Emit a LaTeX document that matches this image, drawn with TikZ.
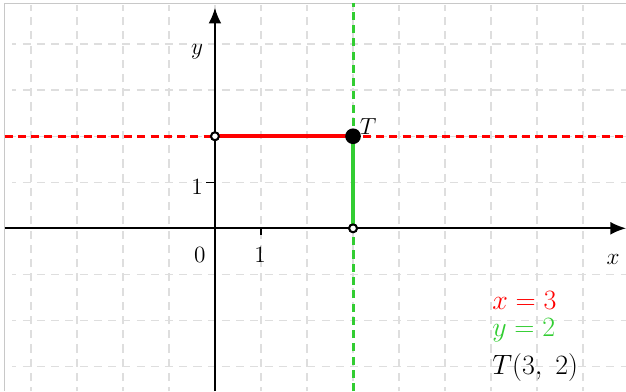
\documentclass[tikz,border=0pt]{standalone}
\usepackage{amsmath}
\usetikzlibrary{arrows.meta}
\definecolor{gridgray}{RGB}{222,222,222}
\definecolor{framegray}{RGB}{200,200,200}
\definecolor{linered}{RGB}{255,0,0}
\definecolor{linegreen}{RGB}{50,205,50}
\tikzset{
  gridline/.style={draw=gridgray,line width=0.9pt,dash pattern=on 5pt off 3.8pt,dash phase=2.5pt},
  axis/.style={-{Latex[length=3.4mm,width=2.8mm]},line width=1.1pt,draw=black},
  tick/.style={line width=0.9pt,draw=black},
  ticklabel/.style={font=\fontsize{14.5}{17}\selectfont,inner sep=0pt},
  redline/.style={draw=linered,line width=1.7pt,dash pattern=on 5pt off 3.2pt},
  redseg/.style={draw=linered,line width=2.6pt},
  greenline/.style={draw=linegreen,line width=1.8pt,dash pattern=on 5pt off 3.2pt},
  greenseg/.style={draw=linegreen,line width=2.6pt},
  bigdot/.style={circle,fill=black,minimum size=0.34cm,inner sep=0pt},
  ringdot/.style={circle,draw=black,fill=white,line width=1.2pt,minimum size=0.17cm,inner sep=0pt},
  legend/.style={font=\fontsize{16.5}{19}\selectfont,anchor=west,inner sep=0pt}
}

\begin{document}
\begin{tikzpicture}[x=1cm,y=1cm]
\useasboundingbox (-4.67,-3.54) rectangle (8.93,4.96);
% Rahmen und Gitter
\draw[framegray,line width=0.8pt] (-4.57,-3.54) -- (-4.57,4.89) -- (8.93,4.89);
\draw[gridline] (-4.4,-3.54) grid (8.93,4.85);

\coordinate (O) at (0,0);
\coordinate (xs) at (-4.57,0);
\coordinate (xe) at (8.93,0);
\coordinate (ys) at (0,-3.54);
\coordinate (ye) at (0,4.79);

% Geraden
\coordinate (rl) at (-4.57,2);
\coordinate (rr) at (8.93,2);
\coordinate (gb) at (3,-3.54);
\coordinate (gt) at (3,4.89);
\draw[redline] (rl) -- (rr);
\draw[greenline] (gb) -- (gt);

% Achsen
\draw[axis] (xs) -- (xe);
\draw[axis] (ys) -- (ye);
\draw[tick] (1,0) -- (1,-0.15);
\draw[tick] (0,1) -- (-0.2,1);
\node[ticklabel] (l0) at (-0.33,-0.59) {$0$};
\node[ticklabel] (lx1) at (0.98,-0.59) {$1$};
\node[ticklabel] (ly1) at (-0.39,0.89) {$1$};
\node[ticklabel] (lx) at (8.65,-0.68) {$x$};
\node[ticklabel] (ly) at (-0.39,3.83) {$y$};

% Punkt T
\node[ringdot] (Ty) at (0,2) {};
\node[ringdot] (Tx) at (3,0) {};
\draw[redseg] (Ty.center) -- (3,2);
\draw[greenseg] (Tx.center) -- (3,2);
\node[ringdot] at (Ty) {};
\node[ringdot] at (Tx) {};
\node[bigdot] (T) at (3,2) {};
\node[font=\fontsize{15}{17}\selectfont,inner sep=0pt] (Tl) at (3.33,2.2) {$T$};

% Legende
\node[legend,text=linered] (eqx) at (6.02,-1.57) {$x=3$};
\node[legend,text=linegreen] (eqy) at (6.02,-2.22) {$y=2$};
\node[legend] (eqT) at (6.02,-3.02) {$T(3,\ 2)$};
\end{tikzpicture}
\end{document}
